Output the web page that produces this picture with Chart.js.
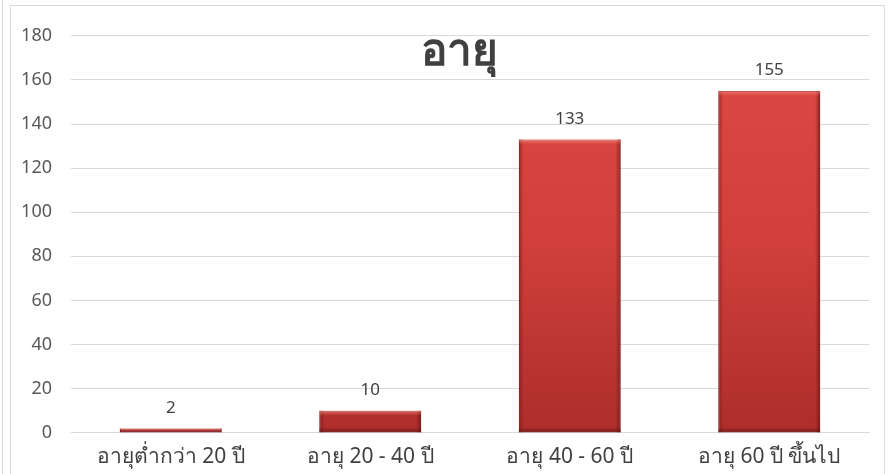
<!DOCTYPE html>
<html>
<head>
<meta charset="utf-8">
<script src="https://cdn.jsdelivr.net/npm/chart.js@4/dist/chart.umd.min.js"></script>
<style>
  html, body { margin: 0; padding: 0; background: #fff; }
  body { width: 892px; height: 474px; position: relative; overflow: hidden; }
  #edge { position: absolute; left: 2px; top: 0; width: 0; height: 474px; border-left: 1px solid #d9d9d9; }
  #frame { position: absolute; left: 10px; top: 5px; width: 873px; height: 480px; border: 1px solid #d9d9d9; }
  #wrap { position: absolute; left: 0; top: 0; width: 873px; height: 469px; }
</style>
</head>
<body>
<div id="edge"></div>
<div id="frame"><div id="wrap"><canvas id="ageChart"></canvas></div></div>
<script>
const chartTitle = 'อายุ';
const categories = ['อายุต่ำกว่า 20 ปี', 'อายุ 20 - 40 ปี', 'อายุ 40 - 60 ปี', 'อายุ 60 ปี ขึ้นไป'];
const counts = [2, 10, 133, 155];
const yMin = 0;
const yMax = 180;
const yStep = 20;

const fontFamily = "'Noto Sans', 'Open Sans', sans-serif";

// value labels above each bar
const valueLabels = {
    id: 'valueLabels',
    afterDatasetsDraw(chart) {
        const ctx = chart.ctx;
        const meta = chart.getDatasetMeta(0);
        ctx.save();
        ctx.font = '17px ' + fontFamily;
        ctx.fillStyle = '#404040';
        ctx.textAlign = 'center';
        ctx.textBaseline = 'bottom';
        meta.data.forEach((bar, i) => {
            ctx.fillText(counts[i], bar.x, bar.y - 12);
        });
        ctx.restore();
    }
};

// title drawn inside the plot area, like the original
const innerTitle = {
    id: 'innerTitle',
    afterDraw(chart) {
        const ctx = chart.ctx;
        const area = chart.chartArea;
        ctx.save();
        ctx.font = 'bold 44px ' + fontFamily;
        ctx.fillStyle = '#404040';
        ctx.textAlign = 'center';
        ctx.textBaseline = 'middle';
        ctx.fillText(chartTitle, (area.left + area.right) / 2 - 11, area.top + 17);
        ctx.restore();
    }
};

// bevel-ish shading on bars
const bevel = {
    id: 'bevel',
    afterDatasetsDraw(chart) {
        const ctx = chart.ctx;
        const meta = chart.getDatasetMeta(0);
        ctx.save();
        meta.data.forEach(bar => {
            const w = bar.width;
            const left = bar.x - w / 2;
            const top = bar.y;
            const h = bar.base - bar.y;
            const b = Math.min(5, h / 2);
            let g = ctx.createLinearGradient(left, 0, left + b, 0);
            g.addColorStop(0, 'rgba(110,20,20,0.55)');
            g.addColorStop(1, 'rgba(110,20,20,0)');
            ctx.fillStyle = g;
            ctx.fillRect(left, top, b, h);
            g = ctx.createLinearGradient(left + w, 0, left + w - b, 0);
            g.addColorStop(0, 'rgba(100,15,15,0.65)');
            g.addColorStop(1, 'rgba(100,15,15,0)');
            ctx.fillStyle = g;
            ctx.fillRect(left + w - b, top, b, h);
            g = ctx.createLinearGradient(0, top, 0, top + b);
            g.addColorStop(0, 'rgba(255,150,140,0.55)');
            g.addColorStop(1, 'rgba(255,150,140,0)');
            ctx.fillStyle = g;
            ctx.fillRect(left, top, w, b);
            g = ctx.createLinearGradient(0, bar.base, 0, bar.base - b);
            g.addColorStop(0, 'rgba(90,10,10,0.6)');
            g.addColorStop(1, 'rgba(90,10,10,0)');
            ctx.fillStyle = g;
            ctx.fillRect(left, bar.base - b, w, b);
        });
        ctx.restore();
    }
};

const ctx = document.getElementById('ageChart').getContext('2d');

new Chart(ctx, {
    type: 'bar',
    data: {
        labels: categories,
        datasets: [{
            label: chartTitle,
            data: counts,
            backgroundColor: function(context) {
                const area = context.chart.chartArea;
                if (!area) return '#d0403c';
                const g = context.chart.ctx.createLinearGradient(0, area.top, 0, area.bottom);
                g.addColorStop(0, '#de4944');
                g.addColorStop(0.5, '#d2403c');
                g.addColorStop(1, '#ad2e2b');
                return g;
            },
            borderColor: '#8f2521',
            borderWidth: 1,
            borderSkipped: false,
            categoryPercentage: 1.0,
            barPercentage: 0.51
        }]
    },
    options: {
        responsive: true,
        maintainAspectRatio: false,
        animation: false,
        layout: { padding: { top: 20, right: 15, bottom: 1, left: 0 } },
        plugins: {
            legend: { display: false },
            title: { display: false },
            tooltip: { enabled: false }
        },
        scales: {
            x: {
                grid: { display: false },
                border: { display: true, color: '#d9d9d9', width: 1 },
                ticks: {
                    color: '#404040',
                    font: { family: fontFamily, size: 21 },
                    padding: 4,
                    maxRotation: 0
                }
            },
            y: {
                min: yMin,
                max: yMax,
                afterFit(scale) { scale.width = 60; },
                grid: { color: '#d9d9d9', drawTicks: false },
                border: { display: false },
                ticks: {
                    stepSize: yStep,
                    color: '#595959',
                    font: { family: fontFamily, size: 18 },
                    padding: 19
                }
            }
        }
    },
    plugins: [valueLabels, innerTitle, bevel]
});
</script>
</body>
</html>
